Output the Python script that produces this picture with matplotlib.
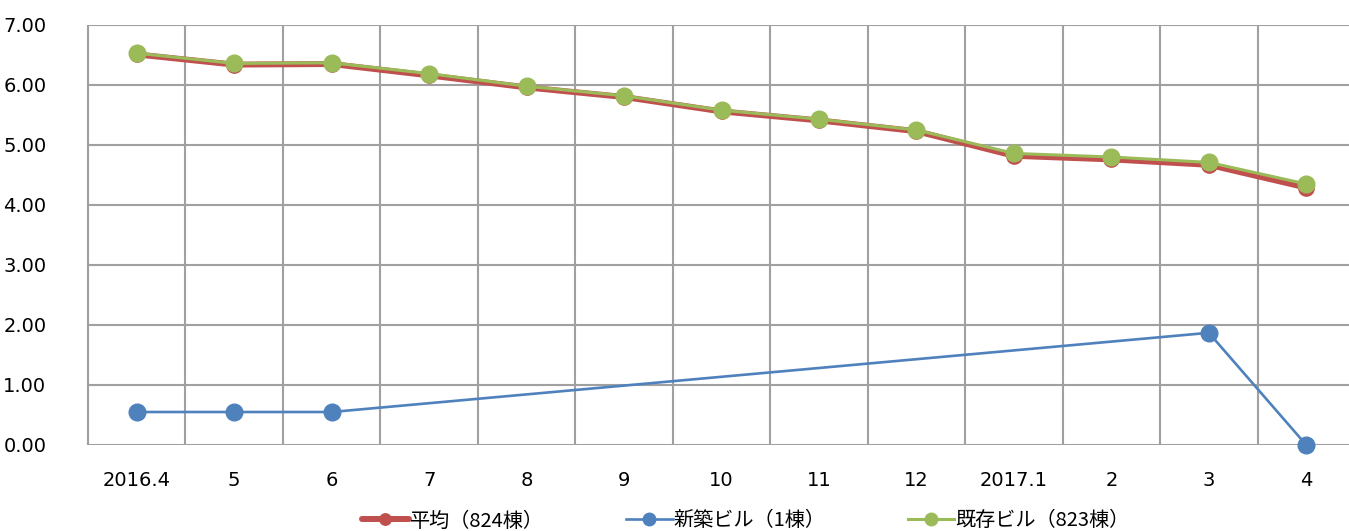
import numpy as np
import matplotlib
matplotlib.use("Agg")
import matplotlib.pyplot as plt

plt.rcParams["font.family"] = ["DejaVu Sans", "Noto Sans CJK JP"]

# Categories (months)
months = ["2016.4", "5", "6", "7", "8", "9", "10", "11", "12", "2017.1", "2", "3", "4"]

# Series values
avg_all = [6.51, 6.34, 6.35, 6.16, 5.96, 5.80, 5.56, 5.41, 5.23, 4.82, 4.76, 4.67, 4.29]
new_bldg = [0.55, 0.55, 0.55, np.nan, np.nan, np.nan, np.nan, np.nan, np.nan, np.nan, np.nan, 1.87, 0.00]
old_bldg = [6.53, 6.36, 6.37, 6.19, 5.98, 5.82, 5.58, 5.43, 5.25, 4.86, 4.80, 4.71, 4.35]

labels = ["平均（824棟）", "新築ビル（1棟）", "既存ビル（823棟）"]

red = "#C0504D"
blue = "#4F81BD"
green = "#9BBB59"
grid_col = "#A0A0A0"

fig = plt.figure(figsize=(13.49, 5.31), dpi=100)
W, H = 1349, 531
ax = fig.add_axes([88 / W, 86 / H, 1267 / W, 420 / H])

x = np.arange(len(months))
new_arr = np.array(new_bldg)
ok = ~np.isnan(new_arr)

l1, = ax.plot(x, avg_all, color=red, lw=4.3, marker="o", ms=11,
              mfc=red, mec=red, zorder=3, clip_on=False, solid_capstyle="round")
l2, = ax.plot(x[ok], new_arr[ok], color=blue, lw=1.9, marker="o", ms=12,
              mfc=blue, mec=blue, zorder=3, clip_on=False)
l3, = ax.plot(x, old_bldg, color=green, lw=2.2, marker="o", ms=12,
              mfc=green, mec=green, zorder=4, clip_on=False)

ax.set_xlim(-0.5, len(months) - 0.5)
ax.set_ylim(0, 7)
ax.set_yticks(np.arange(0, 7.01, 1))
ax.set_yticklabels([f"{v:.2f}" for v in np.arange(0, 7.01, 1)])
ax.set_xticks(x)
ax.set_xticklabels(months)
ax.set_xticks(np.arange(-0.5, len(months), 1), minor=True)

ax.grid(True, axis="y", which="major", color=grid_col, lw=1.5, solid_capstyle="butt")
ax.grid(True, axis="x", which="minor", color=grid_col, lw=1.5, solid_capstyle="butt")
ax.grid(False, axis="x", which="major")
ax.set_axisbelow(True)

for s in ["top", "right", "bottom"]:
    ax.spines[s].set_visible(False)
ax.spines["left"].set_color(grid_col)
ax.spines["left"].set_linewidth(1.5)
ax.spines["left"].set_capstyle("butt")

ax.tick_params(axis="both", which="both", length=0, labelsize=14, colors="#000000")
ax.tick_params(axis="x", pad=19)
ax.tick_params(axis="y", pad=30)

leg = fig.legend([l1, l2, l3], labels, loc="center", bbox_to_anchor=(0.553, 1 - 521 / H),
                 ncol=3, frameon=False, handlelength=2.3, handletextpad=0.05,
                 columnspacing=4.1, markerscale=0.75,
                 prop={"family": ["Noto Sans CJK JP", "DejaVu Sans"], "size": 14.5})

fig.savefig("out.png", dpi=100)
